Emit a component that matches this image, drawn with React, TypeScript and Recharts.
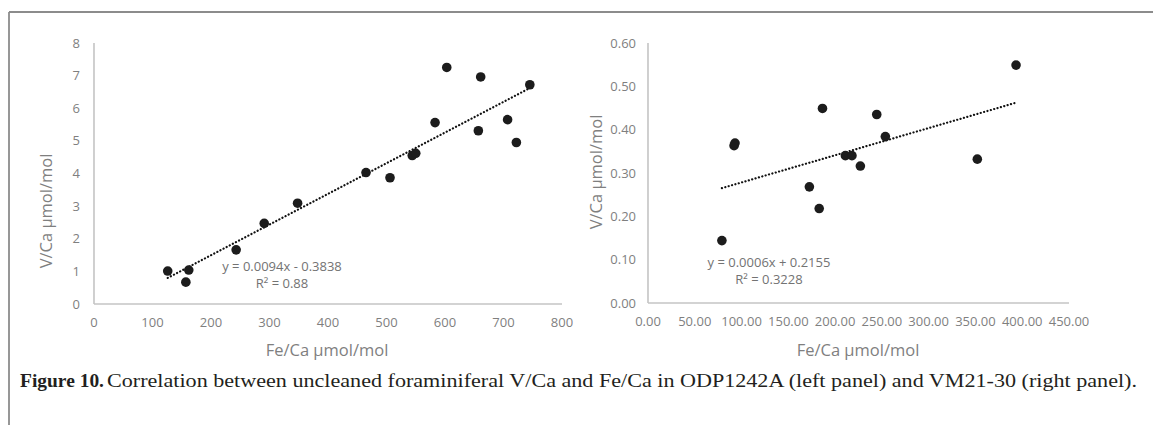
import { ScatterChart, Scatter, XAxis, YAxis, ReferenceLine } from "recharts";

// ODP1242A (left panel)
const leftFe = [126, 162, 157, 243, 291, 348, 465, 506, 544, 550, 583, 603, 661, 657, 707, 722, 745];
const leftV = [1.01, 1.04, 0.67, 1.66, 2.47, 3.09, 4.03, 3.87, 4.55, 4.62, 5.56, 7.25, 6.96, 5.31, 5.65, 4.95, 6.72];
const leftTrendFe = [126, 745];
const leftTrendV = [0.8, 6.62];
const leftTicksX = [0, 100, 200, 300, 400, 500, 600, 700, 800];
const leftTicksY = [0, 1, 2, 3, 4, 5, 6, 7, 8];

// VM21-30 (right panel)
const rightFe = [79, 92, 93, 172.5, 183, 186.5, 211, 218, 227, 244.5, 253.7, 352, 393.4];
const rightV = [0.144, 0.363, 0.369, 0.268, 0.218, 0.449, 0.34, 0.34, 0.316, 0.435, 0.384, 0.332, 0.549];
const rightTrendFe = [79, 393];
const rightTrendV = [0.265, 0.462];
const rightTicksX = [0, 50, 100, 150, 200, 250, 300, 350, 400, 450];
const rightTicksY = [0, 0.1, 0.2, 0.3, 0.4, 0.5, 0.6];

const AXIS_FONT = "'Open Sans', sans-serif";
const TICK_COLOR = "#7f7f7f";
const AXIS_LINE = { stroke: "#c4c4c4", strokeWidth: 1.6 };

const Dot = (p: any) => <circle cx={p.cx} cy={p.cy} r={4.8} fill="#1c1c1c" />;

function Panel({
  fe,
  v,
  trendFe,
  trendV,
  ticksX,
  ticksY,
  digits,
  width,
  marginRight,
  xAxisHeight,
  tickGap,
}: {
  fe: number[];
  v: number[];
  trendFe: number[];
  trendV: number[];
  ticksX: number[];
  ticksY: number[];
  digits: number;
  width: number;
  marginRight: number;
  xAxisHeight: number;
  tickGap: number;
}) {
  const data = fe.map((x, i) => ({ x, y: v[i] }));
  const fmt = (n: number) => n.toFixed(digits);
  const tick = { fill: TICK_COLOR, fontSize: 13, fontFamily: AXIS_FONT };
  return (
    <ScatterChart
      width={width}
      height={340}
      margin={{ top: 43, right: marginRight, bottom: 0, left: 0 }}
    >
      <XAxis
        type="number"
        dataKey="x"
        domain={[ticksX[0], ticksX[ticksX.length - 1]]}
        ticks={ticksX}
        tickFormatter={fmt}
        tick={tick}
        tickLine={false}
        tickSize={0}
        tickMargin={14}
        axisLine={AXIS_LINE}
        height={xAxisHeight}
        interval={0}
      />
      <YAxis
        type="number"
        dataKey="y"
        domain={[ticksY[0], ticksY[ticksY.length - 1]]}
        ticks={ticksY}
        tickFormatter={fmt}
        tick={tick}
        tickLine={false}
        tickSize={0}
        tickMargin={tickGap}
        axisLine={AXIS_LINE}
        width={94}
        interval={0}
      />
      <ReferenceLine
        segment={[
          { x: trendFe[0], y: trendV[0] },
          { x: trendFe[1], y: trendV[1] },
        ]}
        stroke="#111"
        strokeWidth={2.2}
        strokeDasharray="0.1 3.4"
        strokeLinecap="round"
        ifOverflow="visible"
      />
      <Scatter data={data} shape={Dot} isAnimationActive={false} />
    </ScatterChart>
  );
}

export default function App() {
  const titleStyle = { fontFamily: AXIS_FONT, fontSize: 16.5, fill: TICK_COLOR };
  const eqStyle = { fontFamily: AXIS_FONT, fontSize: 13, fill: "#737373" };
  const captionFont = "'Liberation Serif', serif";
  return (
    <div
      style={{
        position: "absolute",
        left: 0,
        top: 0,
        width: 1153,
        height: 425,
        background: "#fff",
        overflow: "hidden",
      }}
    >
      <div style={{ position: "absolute", left: 0, top: 0 }}>
        <Panel
          fe={leftFe}
          v={leftV}
          trendFe={leftTrendFe}
          trendV={leftTrendV}
          ticksX={leftTicksX}
          ticksY={leftTicksY}
          digits={0}
          width={600}
          marginRight={38}
          xAxisHeight={36}
          tickGap={14}
        />
      </div>
      <div style={{ position: "absolute", left: 554, top: 0 }}>
        <Panel
          fe={rightFe}
          v={rightV}
          trendFe={rightTrendFe}
          trendV={rightTrendV}
          ticksX={rightTicksX}
          ticksY={rightTicksY}
          digits={2}
          width={599}
          marginRight={84}
          xAxisHeight={37}
          tickGap={12}
        />
      </div>
      <svg
        width={1153}
        height={425}
        style={{ position: "absolute", left: 0, top: 0, pointerEvents: "none" }}
      >
        {/* figure frame */}
        <line x1={9} y1={12} x2={1153} y2={12} stroke="#8c8c8c" strokeWidth={1.8} />
        <line x1={9} y1={12} x2={9} y2={425} stroke="#8c8c8c" strokeWidth={1.8} />

        {/* axis titles */}
        <text x={327} y={349} textAnchor="middle" dominantBaseline="central" style={titleStyle}>
          Fe/Ca µmol/mol
        </text>
        <text x={858} y={349} textAnchor="middle" dominantBaseline="central" style={titleStyle}>
          Fe/Ca µmol/mol
        </text>
        <text
          transform="translate(45,211) rotate(-90)"
          textAnchor="middle"
          dominantBaseline="central"
          style={titleStyle}
        >
          V/Ca µmol/mol
        </text>
        <text
          transform="translate(595,172) rotate(-90)"
          textAnchor="middle"
          dominantBaseline="central"
          style={titleStyle}
        >
          V/Ca µmol/mol
        </text>

        {/* trendline equations */}
        <text x={282} y={266} textAnchor="middle" dominantBaseline="central" style={eqStyle}>
          y = 0.0094x - 0.3838
        </text>
        <text x={282} y={283} textAnchor="middle" dominantBaseline="central" style={eqStyle}>
          R² = 0.88
        </text>
        <text x={769} y={262} textAnchor="middle" dominantBaseline="central" style={eqStyle}>
          y = 0.0006x + 0.2155
        </text>
        <text x={769} y={279} textAnchor="middle" dominantBaseline="central" style={eqStyle}>
          R² = 0.3228
        </text>

        {/* caption */}
        <text
          x={20}
          y={387}
          textLength={84}
          lengthAdjust="spacingAndGlyphs"
          style={{ fontFamily: captionFont, fontSize: 18, fontWeight: 700, fill: "#231f20" }}
        >
          Figure 10.
        </text>
        <text
          x={107}
          y={387}
          textLength={1030}
          lengthAdjust="spacingAndGlyphs"
          style={{ fontFamily: captionFont, fontSize: 18, fill: "#231f20" }}
        >
          Correlation between uncleaned foraminiferal V/Ca and Fe/Ca in ODP1242A (left panel) and VM21-30 (right panel).
        </text>
      </svg>
    </div>
  );
}
